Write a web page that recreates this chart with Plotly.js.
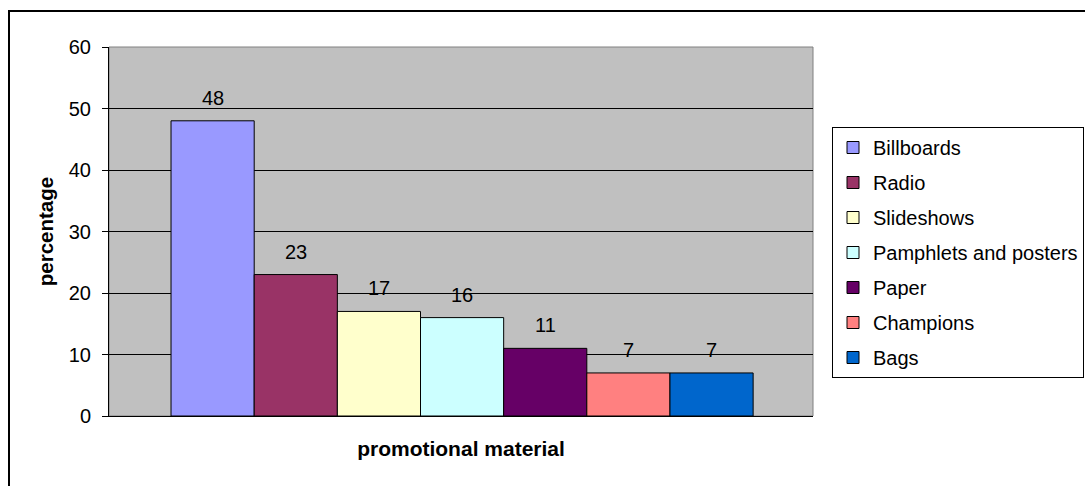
<!DOCTYPE html>
<html>
<head>
<meta charset="utf-8">
<script src="https://cdn.plot.ly/plotly-3.0.1.min.js"></script>
<style>html,body{margin:0;padding:0;background:#fff;}#chart{width:1085px;height:486px;}</style>
</head>
<body>
<div id="chart"></div>
<script>
const categories = ["Billboards", "Radio", "Slideshows", "Pamphlets and posters", "Paper", "Champions", "Bags"];
const values = [48, 23, 17, 16, 11, 7, 7];
const colors = ["#9999FF", "#993366", "#FFFFCC", "#CCFFFF", "#660066", "#FF8080", "#0066CC"];
const yTicks = [0, 10, 20, 30, 40, 50, 60];
const xTitle = "promotional material";
const yTitle = "percentage";

const FONT = "Liberation Sans, Arial, sans-serif";

const traces = categories.map((c, i) => ({
  type: "bar",
  name: c,
  x: [c],
  y: [values[i]],
  legendgroup: "g" + i,
  marker: {color: colors[i], line: {color: "#000", width: 1}},
  hoverinfo: "name+y"
}));

const annotations = categories.map((c, i) => ({
  x: c, y: values[i], xref: "x", yref: "y",
  text: String(values[i]), showarrow: false,
  yanchor: "middle", yshift: 23,
  font: {family: FONT, size: 20, color: "#000"}
}));

const L = 109, R = 813, T = 47, B = 416, W = 1085, H = 486;
const pw = R - L, ph = B - T;
const px = v => (v - L) / pw;
const py = v => (B - v) / ph;

const layout = {
  width: W, height: H,
  margin: {l: L, r: W - R, t: T, b: H - B, pad: 0, autoexpand: false},
  paper_bgcolor: "#fff",
  plot_bgcolor: "#C0C0C0",
  barmode: "overlay",
  bargap: 0,
  font: {family: FONT, size: 20, color: "#000"},
  showlegend: true,
  legend: {
    x: px(832), y: py(127), xanchor: "left", yanchor: "top",
    bgcolor: "#fff", bordercolor: "#000", borderwidth: 1,
    font: {family: FONT, size: 20, color: "#000"},
    tracegroupgap: 6, traceorder: "grouped"
  },
  xaxis: {
    type: "category",
    categoryorder: "array", categoryarray: categories,
    range: [-1.246, categories.length - 0.5 + 0.72],
    showticklabels: false, ticks: "",
    showgrid: false, zeroline: false,
    showline: true, linecolor: "#000", linewidth: 1,
    title: {text: xTitle, font: {family: FONT, size: 21, color: "#000", weight: "bold"}, standoff: 25},
    fixedrange: true
  },
  yaxis: {
    range: [0, 60],
    tickvals: yTicks,
    ticks: "outside", ticklen: 6, tickcolor: "#000", tickwidth: 1,
    ticklabelstandoff: 7,
    showgrid: true, gridcolor: "#000", gridwidth: 1,
    zeroline: true, zerolinecolor: "#000",
    showline: true, linecolor: "#000", linewidth: 1,
    tickfont: {family: FONT, size: 20, color: "#000"},
    title: {text: yTitle, font: {family: FONT, size: 20.5, color: "#000", weight: "bold"}, standoff: 9},
    fixedrange: true
  },
  annotations: annotations,
  shapes: [
    {type: "rect", xref: "paper", yref: "paper", x0: 0, x1: 1, y0: 0, y1: 1,
     line: {color: "#808080", width: 1}, fillcolor: "rgba(0,0,0,0)", layer: "below"},
    {type: "rect", xref: "paper", yref: "paper",
     x0: px(9), x1: px(1095), y0: py(496), y1: py(11),
     line: {color: "#000", width: 2}, fillcolor: "rgba(0,0,0,0)"}
  ]
};

Plotly.newPlot("chart", traces, layout, {displayModeBar: false, staticPlot: true});
</script>
</body>
</html>
